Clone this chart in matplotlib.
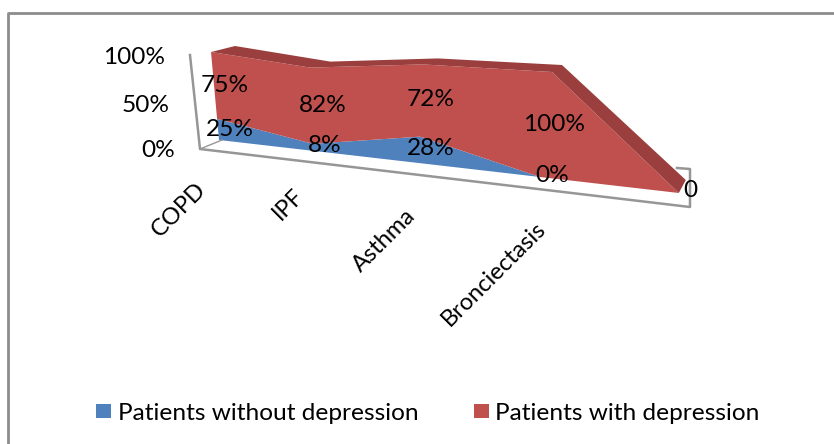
import matplotlib
matplotlib.use("Agg")
import matplotlib.pyplot as plt
import numpy as np

categories = ["COPD", "IPF", "Asthma", "Bronciectasis", ""]
without_depr = [25, 8, 28, 0, 0]
with_depr = [75, 82, 72, 100, 0]
without_labels = ["25%", "8%", "28%", "0%"]
with_labels = ["75%", "82%", "72%", "100%", "0"]
y_ticks = ["0%", "50%", "100%"]

plt.rcParams["font.family"] = ["Lato", "DejaVu Sans"]
FS = 17.6

# front plane of the fake 3d chart: fit a homography (category, percent) -> pixels
src = [(0, 0), (0, 100), (3, 0), (3, 100)]
dst = [(219, 140), (211, 52), (540, 177), (552, 72)]
A = []
b = []
for (u, v), (px, py) in zip(src, dst):
    A.append([u, v, 1, 0, 0, 0, -u * px, -v * px])
    A.append([0, 0, 0, u, v, 1, -u * py, -v * py])
    b += [px, py]
h = np.append(np.linalg.solve(np.array(A, float), np.array(b, float)), 1).reshape(3, 3)


def front(x, y):
    p = h @ np.array([x, y, np.ones_like(x)], float)
    return p[0] / p[2], p[1] / p[2]


# how far the back edge of the top face sits from the front edge
depth_dx = np.array([24, 20, 15, 10, 7])
depth_dy = np.array([-6, -6, -6, -7, -13])

xs = np.arange(5, dtype=float)
low = np.array(without_depr, float)
top = low + np.array(with_depr, float)

fig = plt.figure(figsize=(8.34, 4.44), dpi=100)
ax = fig.add_axes([0, 0, 1, 1])
ax.set_xlim(0, 834)
ax.set_ylim(444, 0)
ax.axis("off")

# chart frame
ax.plot([8, 8, 834], [444, 13, 13], color="#8c8c8c", lw=2)

# walls and floor
gray = "#969696"
ax.plot([190, 200, 690, 690, 677], [55, 149, 207, 169, 168], color=gray, lw=1.8)
ax.plot([200, 222], [149, 140], color=gray, lw=1)

# areas
fx, fy = front(xs, np.zeros(5))
lx, ly = front(xs, low)
tx, ty = front(xs, top)
ax.fill(np.r_[fx, lx[::-1]], np.r_[fy, ly[::-1]], color="#4F81BD", lw=0)
ax.fill(np.r_[lx, tx[::-1]], np.r_[ly, ty[::-1]], color="#C0504D", lw=0)

bx, by = tx + depth_dx, ty + depth_dy
ax.fill(np.r_[tx, bx[::-1]], np.r_[ty, by[::-1]], color="#9A3F3D", lw=0)

# data labels
lab_pos_low = [(230, 129), (325, 145), (431, 148), (552, 175)]
lab_pos_high = [(225, 85), (323, 105), (431, 99), (554, 124), (690, 190)]
for t, (px, py) in zip(without_labels, lab_pos_low):
    ax.text(px, py, t, fontsize=FS, ha="center", va="center")
for t, (px, py) in zip(with_labels, lab_pos_high):
    ax.text(px, py, t, fontsize=FS, ha="center", va="center")

# axis labels
for t, px, py in zip(y_ticks, [175, 170, 165], [150, 105, 58]):
    ax.text(px, py, t, fontsize=FS, ha="right", va="center")
for t, (px, py) in zip(categories[:4], [(195, 179), (293, 185), (405, 205), (535, 218)]):
    ax.text(px, py, t, fontsize=17, rotation=45, ha="right", va="top", rotation_mode="anchor")

# legend
ax.fill([96, 111, 111, 96], [404, 404, 418, 418], color="#4F81BD", lw=0)
ax.fill([474, 489, 489, 474], [404, 404, 418, 418], color="#C0504D", lw=0)
ax.text(118, 413, "Patients without depression", fontsize=FS, va="center")
ax.text(495, 413, "Patients with depression", fontsize=FS, va="center")

fig.savefig("out.png", dpi=100)
